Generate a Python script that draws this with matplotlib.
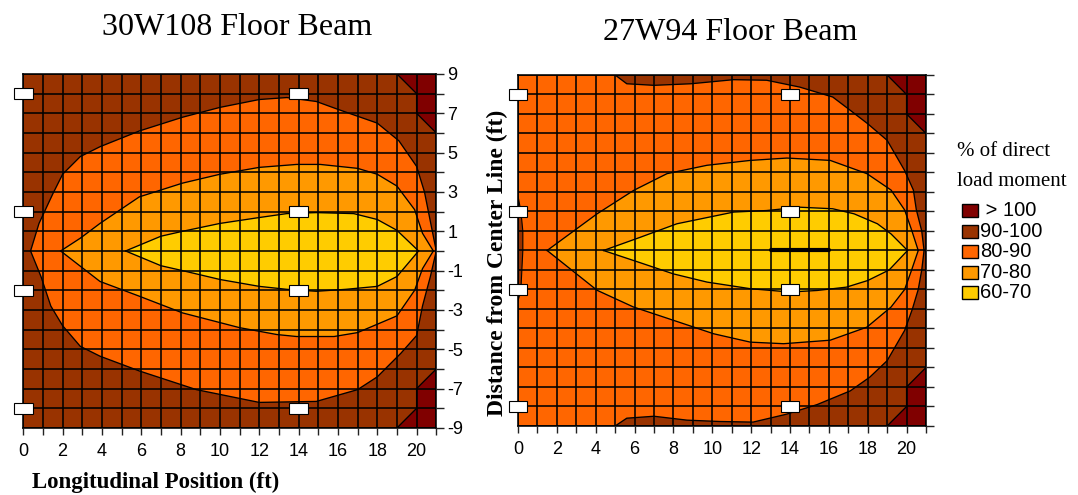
import matplotlib
matplotlib.use("Agg")
import matplotlib.pyplot as plt
from matplotlib.patches import Rectangle

# legend bands (% of direct load moment)
bandLabels = [" > 100", "90-100", "80-90", "70-80", "60-70"]
bandColors = ["#800000", "#993300", "#FF6600", "#FF9900", "#FFCC00"]

# gauge locations (ft)
gaugeX = [0, 0, 0, 0, 14, 14, 14, 14]
gaugeY = [8, 2, -2, -8, 8, 2, -2, -8]

# ---- 30W108 floor beam: contour lines ----
w108_90_upX = [0.37, 0.8, 1.5, 2.0, 2.9, 3.9, 5.9, 8.1, 10.0, 12.0, 13.4, 14.9, 16.0, 18.0, 19.1, 20.0, 20.4, 20.8, 21.0]
w108_90_upY = [0.0, 1.4, 2.9, 3.9, 4.8, 5.3, 6.1, 6.8, 7.3, 7.7, 7.8, 7.6, 7.2, 6.5, 5.6, 4.3, 3.0, 1.0, 0.0]
w108_90_loX = [0.37, 0.9, 1.4, 2.0, 2.9, 3.9, 5.9, 8.8, 12.0, 14.9, 17.0, 18.0, 19.2, 20.0, 20.3, 20.7, 21.0]
w108_90_loY = [0.0, -1.3, -2.8, -3.8, -4.85, -5.35, -6.1, -7.05, -7.7, -7.65, -7.05, -6.4, -5.2, -4.3, -2.8, -1.3, 0.0]

w108_80_upX = [1.9, 2.9, 3.9, 5.9, 8.1, 10.0, 12.0, 13.9, 15.1, 17.0, 18.0, 19.0, 19.9, 20.3, 20.85]
w108_80_upY = [0.0, 0.65, 1.4, 2.75, 3.45, 3.9, 4.25, 4.4, 4.4, 4.2, 3.9, 3.3, 2.1, 0.9, 0.0]
w108_80_loX = [1.9, 3.9, 5.9, 8.1, 11.0, 12.9, 13.9, 15.8, 17.0, 19.0, 19.9, 20.3, 20.85]
w108_80_loY = [0.0, -1.55, -2.3, -3.15, -3.9, -4.25, -4.35, -4.35, -4.15, -3.3, -2.0, -0.9, 0.0]

w108_70_upX = [5.2, 7.0, 8.1, 10.0, 12.0, 13.4, 14.9, 16.8, 18.0, 19.0, 20.1]
w108_70_upY = [0.0, 0.75, 1.0, 1.4, 1.7, 1.9, 1.95, 1.9, 1.6, 1.05, 0.0]
w108_70_loX = [5.2, 7.0, 8.1, 10.0, 12.0, 13.4, 14.9, 16.4, 18.0, 19.0, 20.1]
w108_70_loY = [0.0, -0.75, -1.0, -1.45, -1.8, -1.95, -2.05, -1.95, -1.8, -1.3, 0.0]

# ---- 27W94 floor beam ----
w94_90_upX = [5.0, 5.6, 7.0, 8.9, 11.1, 12.8, 14.5, 16.2, 17.1, 18.0, 19.0, 19.9, 20.35, 20.5, 20.78, 20.9]
w94_90_upY = [9.0, 8.55, 8.47, 8.55, 8.76, 8.73, 8.38, 7.87, 7.19, 6.5, 5.65, 4.1, 3.1, 2.1, 1.0, 0.0]
w94_90_loX = [5.0, 5.6, 7.0, 8.7, 10.4, 12.1, 13.8, 15.4, 17.1, 18.1, 19.0, 19.9, 20.3, 20.6, 20.78, 20.9]
w94_90_loY = [-9.0, -8.6, -8.5, -8.7, -8.77, -8.8, -8.4, -7.9, -7.2, -6.5, -5.65, -4.1, -3.0, -2.0, -1.0, 0.0]

w94_80_upX = [1.5, 4.07, 5.95, 7.67, 9.73, 11.96, 13.84, 16.07, 17.96, 19.2, 19.9, 20.26, 20.6]
w94_80_upY = [0.0, 1.88, 3.08, 3.94, 4.37, 4.62, 4.74, 4.62, 3.94, 3.1, 2.08, 1.05, 0.0]
w94_80_loX = [1.5, 4.07, 5.95, 8.0, 10.07, 11.96, 13.67, 16.07, 17.96, 19.2, 19.9, 20.26, 20.6]
w94_80_loY = [0.0, -2.04, -2.9, -3.58, -4.27, -4.7, -4.78, -4.6, -3.93, -2.9, -2.0, -1.0, 0.0]

w94_70_upX = [4.4, 6.3, 8.18, 11.1, 12.8, 14.5, 16.2, 17.3, 18.5, 19.2, 20.05]
w94_70_upY = [0.0, 0.68, 1.37, 1.97, 2.05, 2.22, 2.14, 1.88, 1.37, 0.85, 0.0]
w94_70_loX = [4.4, 6.3, 8.0, 9.73, 11.96, 14.0, 15.4, 16.9, 18.0, 19.1, 20.05]
w94_70_loY = [0.0, -0.63, -1.2, -1.62, -1.96, -2.13, -2.05, -1.88, -1.54, -1.0, 0.0]

# thin 90-100 sliver on the left edge of the 27W94 plot
w94_sliverX = [0, 0.15, 0.25, 0.25, 0.2, 0.15, 0]
w94_sliverY = [2.8, 2.0, 1.0, 0.0, -1.0, -2.0, -2.6]
# flat 60 % line on the 27W94 centre line
w94_flatX = [13.0, 16.0]
w94_flatY = [0.0, 0.0]

# >100 corner regions (same on both beams)
over100_topX = [19, 21, 21, 20, 20]
over100_topY = [9, 9, 6, 7, 8]
over100_botX = [19, 21, 21, 20, 20]
over100_botY = [-9, -9, -6, -7, -8]

SANS = "Liberation Sans"
SERIF = "Liberation Serif"
LW = 0.95


def closedLoop(upX, upY, loX, loY):
    return upX + loX[::-1], upY + loY[::-1]


def drawLevel(ax, upX, upY, loX, loY, color):
    xs, ys = closedLoop(upX, upY, loX, loY)
    ax.fill(xs, ys, color=color, lw=0, zorder=1)
    ax.plot(upX, upY, color="black", lw=LW, zorder=2)
    ax.plot(loX, loY, color="black", lw=LW, zorder=2)


def finishPanel(ax, showYLabels):
    for cx, cy in [(over100_topX, over100_topY), (over100_botX, over100_botY)]:
        ax.fill(cx, cy, facecolor=bandColors[0], edgecolor="black", lw=LW, zorder=1.5)

    ax.set_xlim(0, 21)
    ax.set_ylim(-9, 9)
    ax.set_xticks(range(0, 22))
    ax.set_xticklabels([str(v) if v % 2 == 0 and v <= 20 else "" for v in range(0, 22)],
                       fontname=SANS, fontsize=13)
    ax.yaxis.tick_right()
    ax.set_yticks(range(-9, 10))
    if showYLabels:
        ax.set_yticklabels([str(v) if v % 2 else "" for v in range(-9, 10)],
                           fontname=SANS, fontsize=13)
    else:
        ax.set_yticklabels([])
    ax.tick_params(axis="x", length=5, width=1, color="#222222", pad=6)
    ax.tick_params(axis="y", length=6, width=1, color="#222222", pad=2)

    ax.set_axisbelow(False)
    ax.grid(True, color="black", lw=1.15)
    for s in ax.spines.values():
        s.set_color("black")
        s.set_linewidth(1.15)

    for gx, gy in zip(gaugeX, gaugeY):
        ax.add_patch(Rectangle((gx - 0.48, gy - 0.28), 0.96, 0.56, facecolor="white",
                               edgecolor="black", lw=0.8, clip_on=False, zorder=5))


fig = plt.figure(figsize=(10.78, 4.95), dpi=100)

# left panel: 30W108
ax1 = fig.add_axes([0.0216, 0.1354, 0.3831, 0.7152])
ax1.set_facecolor(bandColors[1])
drawLevel(ax1, w108_90_upX, w108_90_upY, w108_90_loX, w108_90_loY, bandColors[2])
drawLevel(ax1, w108_80_upX, w108_80_upY, w108_80_loX, w108_80_loY, bandColors[3])
drawLevel(ax1, w108_70_upX, w108_70_upY, w108_70_loX, w108_70_loY, bandColors[4])
finishPanel(ax1, True)

# right panel: 27W94
ax2 = fig.add_axes([0.4805, 0.1394, 0.3785, 0.7091])
ax2.set_facecolor(bandColors[1])
xs, ys = closedLoop(w94_90_upX, w94_90_upY, w94_90_loX, w94_90_loY)
ax2.fill([0] + xs + [0], [9] + ys + [-9], color=bandColors[2], lw=0, zorder=1)
ax2.plot(w94_90_upX, w94_90_upY, color="black", lw=LW, zorder=2)
ax2.plot(w94_90_loX, w94_90_loY, color="black", lw=LW, zorder=2)
ax2.fill(w94_sliverX, w94_sliverY, facecolor=bandColors[1], edgecolor="black", lw=0.8, zorder=1.2)
drawLevel(ax2, w94_80_upX, w94_80_upY, w94_80_loX, w94_80_loY, bandColors[3])
drawLevel(ax2, w94_70_upX, w94_70_upY, w94_70_loX, w94_70_loY, bandColors[4])
ax2.plot(w94_flatX, w94_flatY, color="black", lw=3, solid_capstyle="round", zorder=3)
finishPanel(ax2, False)

# titles and axis labels
fig.text(0.220, 0.945, "30W108 Floor Beam", ha="center", va="center", fontname=SERIF, fontsize=23)
fig.text(0.677, 0.935, "27W94 Floor Beam", ha="center", va="center", fontname=SERIF, fontsize=23)
fig.text(0.144, 0.026, "Longitudinal Position (ft)", ha="center", va="center",
         fontname=SERIF, fontsize=16.5, fontweight="bold")
fig.text(0.461, 0.468, "Distance from Center Line (ft)", ha="center", va="center", rotation=90,
         fontname=SERIF, fontsize=17, fontweight="bold")

# legend
fig.text(957 / 1078, 1 - 152 / 495, "% of direct", ha="left", va="center", fontname=SERIF, fontsize=15)
fig.text(957 / 1078, 1 - 181 / 495, "load moment", ha="left", va="center", fontname=SERIF, fontsize=15)
for i, (lab, col) in enumerate(zip(bandLabels, bandColors)):
    yc = 210.5 + i * 20.6
    fig.patches.append(Rectangle((962 / 1078, 1 - (yc + 6.5) / 495), 16 / 1078, 13 / 495,
                                 facecolor=col, edgecolor="black", lw=1.0,
                                 transform=fig.transFigure, figure=fig))
    fig.text(980 / 1078, 1 - yc / 495, lab, ha="left", va="center", fontname=SANS, fontsize=14.5)

fig.savefig("out.png", dpi=100)
